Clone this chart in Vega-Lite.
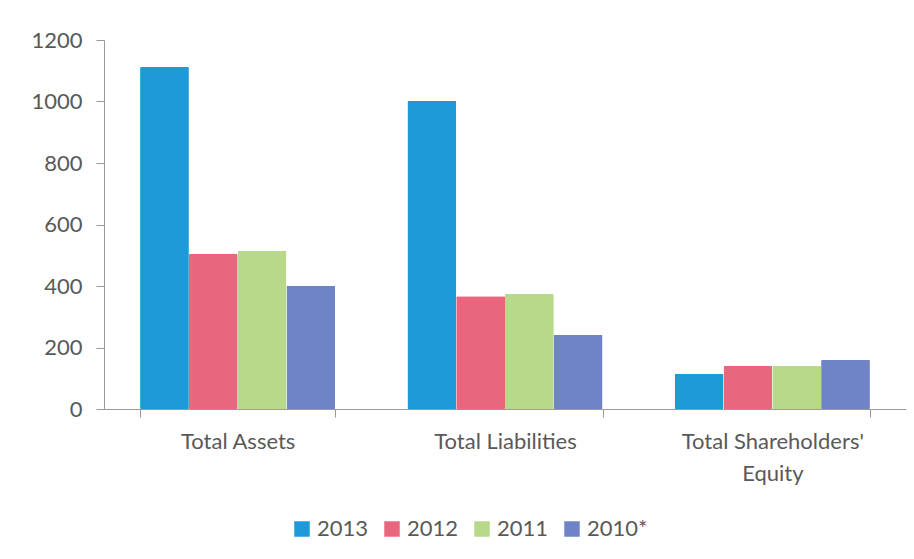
{
  "$schema": "https://vega.github.io/schema/vega-lite/v6.json",
  "width": 802,
  "height": 369,
  "autosize": {"type": "none"},
  "padding": {"left": 104, "top": 40, "right": 8, "bottom": 150},
  "background": "white",
  "data": {
    "values": [
      {"category": "Total Assets", "year": "2013", "value": 1112},
      {"category": "Total Assets", "year": "2012", "value": 504},
      {"category": "Total Assets", "year": "2011", "value": 514},
      {"category": "Total Assets", "year": "2010*", "value": 400},
      {"category": "Total Liabilities", "year": "2013", "value": 1002},
      {"category": "Total Liabilities", "year": "2012", "value": 367},
      {"category": "Total Liabilities", "year": "2011", "value": 374},
      {"category": "Total Liabilities", "year": "2010*", "value": 241},
      {"category": "Total Shareholders' Equity", "year": "2013", "value": 114},
      {"category": "Total Shareholders' Equity", "year": "2012", "value": 140},
      {"category": "Total Shareholders' Equity", "year": "2011", "value": 140},
      {"category": "Total Shareholders' Equity", "year": "2010*", "value": 159}
    ]
  },
  "mark": {"type": "bar", "cornerRadius": 1},
  "encoding": {
    "x": {
      "field": "category",
      "type": "nominal",
      "sort": null,
      "scale": {"paddingInner": 0.27, "paddingOuter": 0.135},
      "axis": {
        "title": null,
        "labelAngle": 0,
        "tickBand": "extent",
        "labelExpr": "datum.value == \"Total Shareholders' Equity\" ? [\"Total Shareholders'\", 'Equity'] : datum.value",
        "labelLineHeight": 32,
        "labelLimit": 400,
        "labelFont": "Lato",
        "labelFontSize": 22,
        "labelColor": "#595959",
        "labelPadding": 14,
        "domainColor": "#9a9a9a",
        "tickColor": "#9a9a9a",
        "tickSize": 8
      }
    },
    "xOffset": {"field": "year", "type": "nominal", "sort": ["2013", "2012", "2011", "2010*"], "scale": {"paddingInner": 0}},
    "y": {
      "field": "value",
      "type": "quantitative",
      "scale": {"domain": [0, 1200]},
      "axis": {
        "title": null,
        "values": [0, 200, 400, 600, 800, 1000, 1200],
        "format": "d",
        "grid": false,
        "labelFont": "Lato",
        "labelFontSize": 22,
        "labelColor": "#595959",
        "labelPadding": 14,
        "domainColor": "#9a9a9a",
        "tickColor": "#9a9a9a",
        "tickSize": 8
      }
    },
    "color": {
      "field": "year",
      "type": "nominal",
      "sort": ["2013", "2012", "2011", "2010*"],
      "scale": {"domain": ["2013", "2012", "2011", "2010*"], "range": ["#1e9ad8", "#e8677f", "#b9d98a", "#6f84c6"]},
      "legend": {
        "title": null,
        "orient": "none",
        "legendX": 187,
        "legendY": 478,
        "direction": "horizontal",
        "symbolType": "square",
        "symbolSize": 240,
        "symbolStrokeWidth": 0,
        "labelFont": "Lato",
        "labelFontSize": 22,
        "labelColor": "#595959",
        "columnPadding": 12,
        "labelOffset": 4
      }
    }
  },
  "config": {"view": {"stroke": null}}
}
